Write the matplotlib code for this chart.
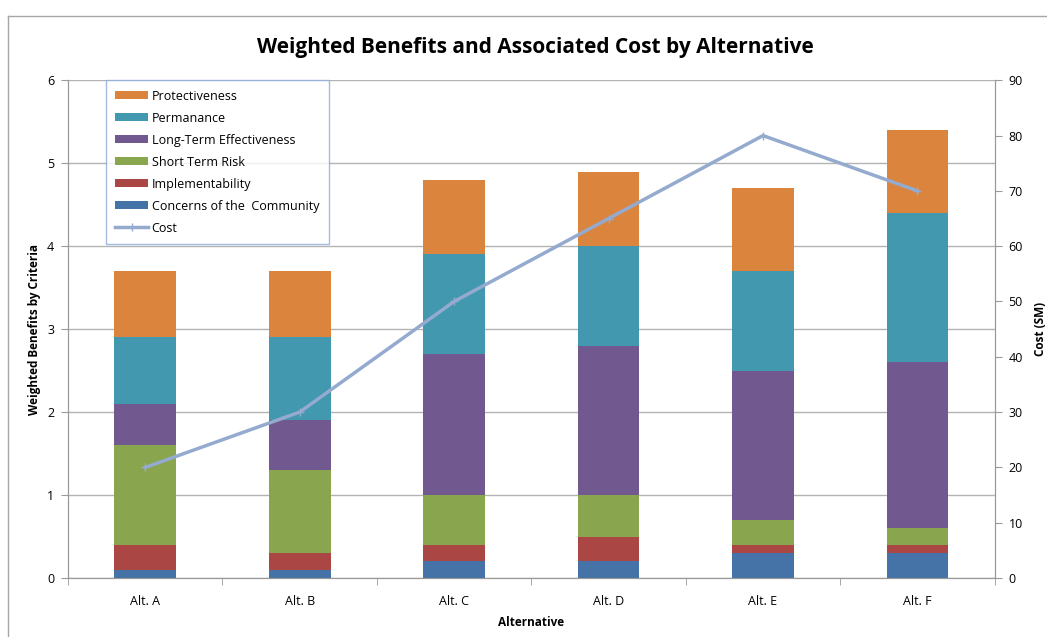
import numpy as np
import matplotlib
matplotlib.use('Agg')
import matplotlib.pyplot as plt
from matplotlib.lines import Line2D

plt.rcParams['font.family'] = ['Open Sans', 'DejaVu Sans']

alternatives = ['Alt. A', 'Alt. B', 'Alt. C', 'Alt. D', 'Alt. E', 'Alt. F']

# stacked from the bottom up
community = [0.1, 0.1, 0.2, 0.2, 0.3, 0.3]
implementability = [0.3, 0.2, 0.2, 0.3, 0.1, 0.1]
short_term_risk = [1.2, 1.0, 0.6, 0.5, 0.3, 0.2]
long_term_eff = [0.5, 0.6, 1.7, 1.8, 1.8, 2.0]
permanance = [0.8, 1.0, 1.2, 1.2, 1.2, 1.8]
protectiveness = [0.8, 0.8, 0.9, 0.9, 1.0, 1.0]

cost = [20, 30, 50, 65, 80, 70]

series = [
    ('Concerns of the  Community', community, '#4572A7'),
    ('Implementability', implementability, '#AA4643'),
    ('Short Term Risk', short_term_risk, '#89A54E'),
    ('Long-Term Effectiveness', long_term_eff, '#71588F'),
    ('Permanance', permanance, '#4198AF'),
    ('Protectiveness', protectiveness, '#DB843D'),
]

fig = plt.figure(figsize=(10.47, 6.37), dpi=100)

# chart-area border (top and left edges visible)
fig.add_artist(Line2D([8 / 1047, 1.0], [1 - 16 / 637, 1 - 16 / 637],
                      transform=fig.transFigure, color='#A6A6A6', linewidth=1))
fig.add_artist(Line2D([8 / 1047, 8 / 1047], [0, 1 - 16 / 637],
                      transform=fig.transFigure, color='#A6A6A6', linewidth=1))

ax = fig.add_axes([0.065, 0.0926, 0.885, 0.7814])
x = np.arange(len(alternatives))

handles = []
bottom = np.zeros(len(alternatives))
for name, vals, col in series:
    b = ax.bar(x, vals, 0.4, bottom=bottom, color=col, label=name, zorder=3)
    handles.append(b)
    bottom += np.array(vals)

ax.set_ylim(0, 6)
ax.set_xlim(-0.5, len(alternatives) - 0.5)
ax.set_yticks(range(0, 7))
ax.yaxis.grid(True, color='#B3B3B3', linewidth=1, zorder=0)
ax.set_axisbelow(True)
ax.set_xticks(x)
ax.set_xticklabels(alternatives)
ax.set_xticks(np.arange(-0.5, len(alternatives)), minor=True)
ax.tick_params(axis='x', which='major', length=0, pad=12, labelsize=9)
ax.tick_params(axis='x', which='minor', length=5, color='#999999')
ax.tick_params(axis='y', length=5, color='#999999', labelsize=9, pad=5)
ax.set_ylabel('Weighted Benefits by Criteria', fontsize=8.5, fontweight='bold')
ax.set_xlabel('Alternative', fontsize=8.5, fontweight='bold', labelpad=6)
for s in ['left', 'bottom', 'right']:
    ax.spines[s].set_color('#999999')
ax.spines['top'].set_visible(False)

ax2 = ax.twinx()
ax2.set_ylim(0, 90)
ax2.set_yticks(range(0, 91, 10))
line, = ax2.plot(x, cost, color='#94AACF', linewidth=2.5, marker='+',
                 markersize=6, markeredgewidth=1, label='Cost', zorder=4)
ax2.tick_params(axis='y', length=5, color='#999999', labelsize=9, pad=5)
ax2.set_ylabel('Cost (SM)', fontsize=8.5, fontweight='bold', labelpad=8)
for s in ['left', 'bottom', 'right']:
    ax2.spines[s].set_color('#999999')
ax2.spines['top'].set_visible(False)

leg_handles = handles[::-1] + [line]
leg_labels = [h.get_label() for h in leg_handles]
leg = ax2.legend(leg_handles, leg_labels, loc='upper left',
                 bbox_to_anchor=(0.041, 1.0), borderaxespad=0, fontsize=9,
                 frameon=True, fancybox=False, handlelength=2.6, handleheight=0.6,
                 labelspacing=0.72, borderpad=0.75, handletextpad=0.3)
leg.get_frame().set_edgecolor('#8EA9DB')
leg.get_frame().set_linewidth(1)

fig.text(0.511, 0.925, 'Weighted Benefits and Associated Cost by Alternative',
         ha='center', va='center', fontsize=15, fontweight='bold')

fig.savefig('out.png', dpi=100)
